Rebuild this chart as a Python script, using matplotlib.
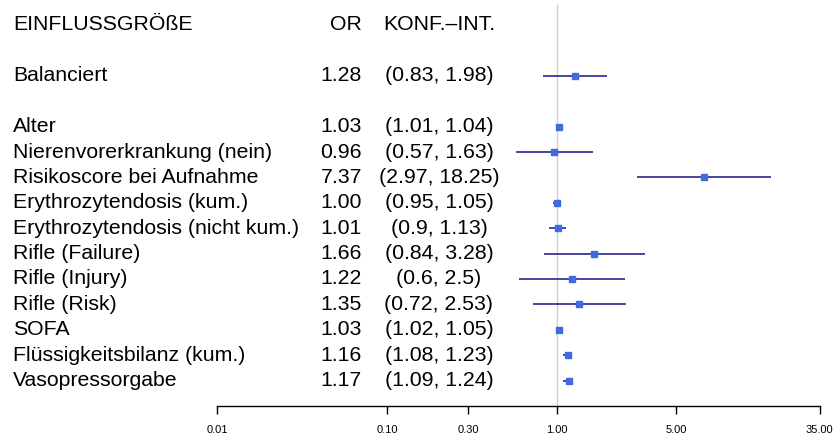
import matplotlib
matplotlib.use("Agg")
from matplotlib import pyplot as plt
from matplotlib.ticker import FixedLocator, FixedFormatter, NullLocator

plt.rcParams["font.family"] = ["Liberation Sans", "DejaVu Sans"]

# Odds ratios with confidence intervals
top_label = "Balanciert"
top_or = 1.28
top_lo = 0.83
top_hi = 1.98

labels = [
    "Alter", "Nierenvorerkrankung (nein)", "Risikoscore bei Aufnahme",
    "Erythrozytendosis (kum.)", "Erythrozytendosis (nicht kum.)",
    "Rifle (Failure)", "Rifle (Injury)", "Rifle (Risk)", "SOFA",
    "Flüssigkeitsbilanz (kum.)", "Vasopressorgabe",
]
odds = [1.03, 0.96, 7.37, 1.00, 1.01, 1.66, 1.22, 1.35, 1.03, 1.16, 1.17]
lower = [1.01, 0.57, 2.97, 0.95, 0.9, 0.84, 0.6, 0.72, 1.02, 1.08, 1.09]
upper = [1.04, 1.63, 18.25, 1.05, 1.13, 3.28, 2.5, 2.53, 1.05, 1.23, 1.24]

tick_values = [0.01, 0.1, 0.3, 1.0, 5.0, 35.0]
tick_labels = ["0.01", "0.10", "0.30", "1.00", "5.00", "35.00"]

W, H = 833, 437
fig = plt.figure(figsize=(W / 100, H / 100), dpi=100)

# Plot area in pixel terms: x from 0.01 (217px) to 35 (819.5px), y row unit 25.4px
x0, x1 = 217, 819.5
y_axis = 406
row_h = 25.4
ax = fig.add_axes([x0 / W, (H - y_axis) / H, (x1 - x0) / W, y_axis / H])
ax.set_xscale("log")
ax.set_xlim(0.01, 35)
ax.set_ylim(0, y_axis / row_h)
ax.patch.set_alpha(0)

# Row positions (1 = bottom row)
n = len(labels)
ys = [n - i for i in range(n)]
top_y = n + 2
header_y = 15

# Reference line at OR = 1
ax.plot([1, 1], [0, 15.8], color="#d0d0d0", lw=1, zorder=1)

# Confidence intervals and point estimates
all_or = [top_or] + odds
all_lo = [top_lo] + lower
all_hi = [top_hi] + upper
all_y = [top_y] + ys
for o, lo, hi, y in zip(all_or, all_lo, all_hi, all_y):
    ax.plot([lo, hi], [y, y], color="#14148c", lw=1.1, zorder=2, solid_capstyle="butt")
    ax.plot([o], [y], marker="s", ms=5, color="#4169e1", mec="#4169e1", zorder=3)

# Axis styling
for side in ["top", "right", "left"]:
    ax.spines[side].set_visible(False)
ax.spines["bottom"].set_bounds(0.01, 35)
ax.spines["bottom"].set_linewidth(1)
ax.yaxis.set_major_locator(NullLocator())
ax.xaxis.set_major_locator(FixedLocator(tick_values))
ax.xaxis.set_major_formatter(FixedFormatter(tick_labels))
ax.xaxis.set_minor_locator(NullLocator())
ax.tick_params(axis="x", direction="out", length=6, width=1, pad=8, labelsize=8)

# Text table on the left (figure pixel coords)
def fx(px):
    return px / W

def fy(py):
    return 1 - py / H

def row_py(y):
    return y_axis - y * row_h

fs = 15.3
lab_x, or_x, ci_x = 13, 362, 439

fig.text(fx(lab_x), fy(row_py(header_y)), "EINFLUSSGRÖßE", fontsize=fs, va="center", ha="left")
fig.text(fx(or_x), fy(row_py(header_y)), "OR", fontsize=fs, va="center", ha="right")
fig.text(fx(ci_x), fy(row_py(header_y)), "KONF.–INT.", fontsize=fs, va="center", ha="center")

all_labels = [top_label] + labels
for lab, o, lo, hi, y in zip(all_labels, all_or, all_lo, all_hi, all_y):
    py = row_py(y)
    fig.text(fx(lab_x), fy(py), lab, fontsize=fs, va="center", ha="left")
    fig.text(fx(or_x), fy(py), f"{o:.2f}", fontsize=fs, va="center", ha="right")
    fig.text(fx(ci_x), fy(py), f"({lo:g}, {hi:g})", fontsize=fs, va="center", ha="center")

fig.savefig("out.png", dpi=100)
